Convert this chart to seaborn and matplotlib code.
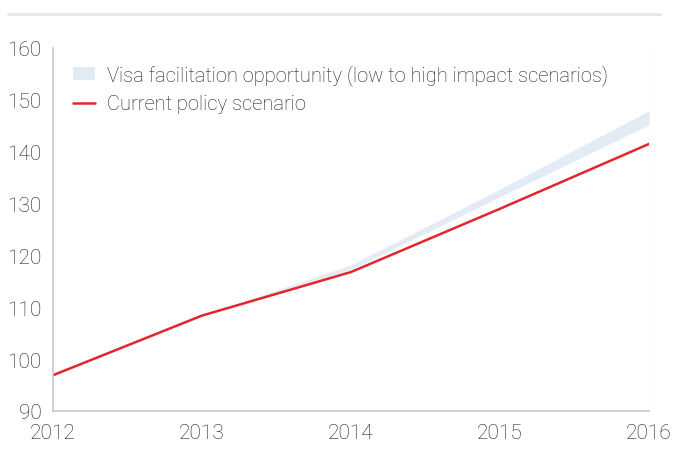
import numpy as np
import pandas as pd
import matplotlib
matplotlib.use("Agg")
import matplotlib.pyplot as plt
import seaborn as sns
from matplotlib.patches import Patch
from matplotlib.lines import Line2D

# values
years = [2012, 2013, 2014, 2015, 2016]
current_policy = [96.9, 108.4, 116.8, 129.0, 141.5]
band_years = [2013, 2014, 2015, 2016]
band_low = [108.4, 117.3, 131.3, 145.2]
band_high = [108.4, 118.2, 132.8, 147.9]
y_ticks = [90, 100, 110, 120, 130, 140, 150, 160]

sns.set_style("white")
plt.rcParams['font.family'] = ['Roboto', 'DejaVu Sans']
plt.rcParams['font.weight'] = 'light'

text_col = "#1e1e1e"
axis_col = "#c8c8c8"
band_col = "#e3ebf5"
red = "#e3262b"

df = pd.DataFrame({'year': years, 'value': current_policy})

fig = plt.figure(figsize=(6.78, 4.56), dpi=100)
ax = fig.add_axes([53 / 678, 44 / 456, 596 / 678, 363 / 456])

ax.fill_between(band_years, band_low, band_high, color=band_col, lw=0)
sns.lineplot(data=df, x='year', y='value', ax=ax, color=red, lw=1.8)

ax.set_xlim(2012, 2016)
ax.set_ylim(90, 160)
ax.set_xticks(years)
ax.set_yticks(y_ticks)
ax.set_xlabel('')
ax.set_ylabel('')
for s in ['top', 'right']:
    ax.spines[s].set_visible(False)
for s in ['left', 'bottom']:
    ax.spines[s].set_color(axis_col)
    ax.spines[s].set_linewidth(1.2)
ax.tick_params(axis='both', direction='out', length=4, width=1, color=axis_col,
               labelsize=15, labelcolor=text_col)
ax.tick_params(axis='y', pad=4)
ax.tick_params(axis='x', pad=5)
# faint right edge line
ax.axvline(2016, color="#f4f4f6", lw=1, zorder=0)

handles = [Patch(facecolor=band_col, edgecolor='none'),
           Line2D([0], [0], color=red, lw=1.8)]
labels = ['Visa facilitation opportunity (low to high impact scenarios)',
          'Current policy scenario']
ax.legend(handles, labels, loc='upper left', bbox_to_anchor=(0.0, 1.01),
          frameon=False, fontsize=14.5, labelcolor=text_col,
          handlelength=1.1, handleheight=0.6, handletextpad=0.6,
          labelspacing=0.45, borderaxespad=0.6)

# thin rule at the top of the figure
fig.add_artist(Line2D([8 / 678, 660 / 678], [1 - 15 / 456, 1 - 15 / 456],
                      color="#e4e6f0", lw=2, transform=fig.transFigure))

fig.savefig('out.png', dpi=100)
